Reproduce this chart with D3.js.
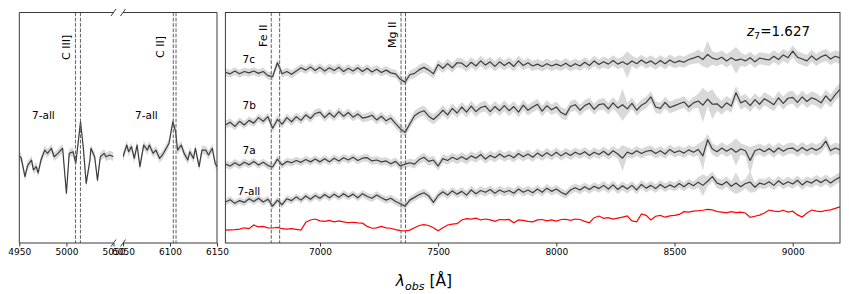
<!DOCTYPE html>
<html>
<head>
<meta charset="utf-8">
<script src="https://cdn.jsdelivr.net/npm/d3@7"></script>
<style>
  body { margin: 0; background: #fff; }
  svg { font-family: "DejaVu Sans", sans-serif; }
</style>
</head>
<body>
<div id="chart"></div>
<script>
// Figure size
const WIDTH = 849;
const HEIGHT = 294;
const TOP = 12.5;
const BOTTOM = 243;

// Right panel spectra: sampled every 20 Å from 6600 Å (one row = 200 Å)
const WAVE_START = 6600;
const WAVE_STEP = 20;

const flux7all = [
  0.98, 1.08, 0.92, 1.04, 0.96, 1.12, 1.00, 1.14, 0.98, 1.10,
  0.80, 1.06, 0.86, 1.12, 1.04, 1.20, 1.06, 1.24, 1.10, 1.26,
  1.14, 1.30, 1.16, 1.32, 1.18, 1.34, 1.20, 1.32, 1.16, 1.34,
  1.22, 1.14, 1.28, 1.16, 1.06, 1.14, 1.00, 0.90, 0.80, 1.06,
  1.18, 1.30, 1.38, 1.24, 0.96, 1.26, 1.42, 1.28, 1.46, 1.32,
  1.44, 1.28, 1.50, 1.34, 1.48, 1.40, 1.52, 1.36, 1.50, 1.40,
  1.48, 1.36, 1.54, 1.40, 1.50, 1.38, 1.54, 1.40, 1.58, 1.44,
  1.54, 1.40, 1.30, 1.50, 1.60, 1.50, 1.64, 1.52, 1.66, 1.56,
  1.70, 1.54, 1.72, 1.52, 1.68, 1.54, 1.70, 1.50, 1.74, 1.58,
  1.70, 1.56, 1.74, 1.60, 1.72, 1.62, 1.78, 1.64, 1.80, 1.68,
  1.84, 1.70, 1.88, 2.08, 1.80, 1.72, 1.86, 1.66, 1.80, 1.64,
  1.78, 1.84, 1.62, 1.80, 1.74, 1.86, 1.70, 1.90, 1.74, 1.86,
  1.76, 1.92, 1.72, 1.88, 1.80, 1.94, 1.82, 1.96, 1.80, 1.94,
  2.06
];

const flux7a = [
  0.92, 0.84, 0.98, 0.86, 1.00, 0.90, 1.04, 0.88, 1.00, 0.86,
  0.80, 1.14, 0.88, 1.04, 0.98, 1.08, 1.00, 1.12, 1.02, 1.14,
  1.02, 1.16, 1.02, 1.18, 1.06, 1.20, 1.10, 1.22, 1.08, 1.18,
  1.20, 1.06, 1.10, 1.02, 1.06, 0.94, 1.04, 0.84, 0.92, 0.98,
  0.92, 1.12, 1.22, 1.04, 1.10, 0.84, 1.16, 1.08, 1.22, 1.12,
  1.24, 1.12, 1.28, 1.18, 1.34, 1.14, 1.30, 1.20, 1.36, 1.22,
  1.32, 1.20, 1.38, 1.24, 1.36, 1.22, 1.40, 1.26, 1.42, 1.28,
  1.44, 1.28, 1.42, 1.30, 1.44, 1.34, 1.46, 1.30, 1.44, 1.34,
  1.48, 1.32, 1.50, 1.36, 1.18, 1.44, 1.36, 1.50, 1.38, 1.48,
  1.52, 1.38, 1.50, 1.36, 1.56, 1.42, 1.50, 1.40, 1.54, 1.44,
  1.56, 1.28, 1.98, 1.58, 1.46, 1.62, 1.48, 1.60, 1.44, 1.58,
  1.50, 1.08, 1.50, 1.58, 1.46, 1.60, 1.44, 1.62, 1.48, 1.60,
  1.62, 1.48, 1.64, 1.50, 1.62, 1.52, 1.64, 1.92, 1.50, 1.62,
  1.54
];

const flux7b = [
  1.02, 1.14, 0.96, 1.18, 1.02, 1.22, 1.10, 1.34, 1.18, 1.38,
  0.88, 1.26, 1.06, 1.34, 1.16, 1.38, 1.22, 1.46, 1.30, 1.52,
  1.58, 1.34, 1.54, 1.36, 1.60, 1.40, 1.56, 1.36, 1.50, 1.32,
  1.36, 1.44, 1.24, 1.40, 1.20, 1.32, 1.08, 0.86, 0.70, 1.06,
  1.42, 1.56, 1.64, 1.40, 1.26, 1.44, 1.66, 1.46, 1.74, 1.54,
  1.80, 1.58, 1.84, 1.60, 1.78, 1.84, 1.60, 1.82, 1.64, 1.86,
  1.64, 1.82, 1.58, 1.88, 1.66, 1.80, 1.92, 1.62, 1.86, 1.68,
  1.80, 1.56, 1.46, 1.82, 1.90, 1.66, 1.86, 1.96, 1.70, 1.90,
  1.94, 1.72, 1.98, 1.76, 1.90, 1.72, 1.96, 1.66, 1.88, 2.00,
  2.24, 1.80, 1.74, 2.00, 1.78, 1.86, 1.94, 2.02, 1.80, 1.98,
  2.06, 1.88, 2.14, 1.92, 1.94, 1.76, 1.98, 1.84, 2.42, 1.98,
  2.08, 1.86, 2.12, 1.92, 2.16, 2.04, 1.90, 2.20, 1.96, 2.18,
  2.22, 2.00, 2.24, 2.04, 2.20, 2.12, 1.98, 2.28, 2.06, 2.34,
  2.56
];

const flux7c = [
  1.01, 0.94, 1.06, 0.94, 1.04, 0.98, 1.06, 0.96, 1.04, 0.86,
  0.82, 1.42, 0.94, 1.04, 0.92, 1.06, 1.20, 1.10, 1.24, 1.08,
  1.22, 1.06, 1.20, 1.08, 1.22, 1.04, 1.18, 1.06, 1.20, 1.04,
  1.18, 1.02, 1.14, 1.00, 1.10, 0.98, 0.94, 0.70, 0.58, 0.90,
  0.96, 1.12, 1.22, 1.10, 0.94, 1.34, 1.18, 1.38, 1.20, 1.42,
  1.40, 1.24, 1.44, 1.28, 1.50, 1.32, 1.46, 1.26, 1.46, 1.30,
  1.44, 1.26, 1.50, 1.30, 1.42, 1.28, 1.36, 1.26, 1.38, 1.28,
  1.36, 1.28, 1.40, 1.26, 1.38, 1.28, 1.44, 1.30, 1.50, 1.34,
  1.46, 1.36, 1.52, 1.36, 1.46, 1.34, 1.50, 1.38, 1.54, 1.40,
  1.50, 1.36, 1.52, 1.38, 1.54, 1.42, 1.50, 1.44, 1.56, 1.62,
  1.70, 1.56, 1.78, 1.62, 1.56, 1.66, 1.50, 1.64, 1.52, 1.58,
  1.50, 1.64, 1.46, 1.62, 1.58, 1.54, 1.70, 1.56, 1.76, 1.64,
  1.92, 1.66, 1.58, 1.50, 1.72, 1.54, 1.68, 1.76, 1.58, 1.70,
  1.63
];

// red reference curve at the bottom
const fluxRed = [
  0.56, 0.57, 0.58, 0.60, 0.66, 0.62, 0.78, 0.70, 0.72, 0.66,
  0.65, 0.68, 0.62, 0.60, 0.62, 0.59, 0.56, 0.90, 1.00, 1.04,
  0.96, 0.94, 0.98, 0.92, 0.96, 0.92, 0.88, 0.90, 0.87, 0.86,
  0.72, 0.64, 0.66, 0.72, 0.66, 0.64, 0.58, 0.54, 0.52, 0.56,
  0.66, 0.76, 0.80, 0.76, 0.66, 0.53, 0.66, 0.78, 0.82, 0.84,
  1.00, 1.06, 1.04, 1.08, 1.00, 1.04, 1.00, 0.94, 1.02, 1.00,
  1.02, 0.88, 1.00, 0.98, 0.94, 0.92, 1.00, 1.02, 0.96, 1.00,
  0.95, 1.02, 1.03, 0.98, 1.04, 1.02, 0.94, 0.88, 1.10, 1.17,
  1.07, 1.10, 1.04, 1.08, 1.12, 1.17, 0.96, 0.92, 1.26, 1.20,
  1.00, 1.16, 1.20, 1.12, 1.18, 1.20, 1.24, 1.36, 1.34, 1.38,
  1.40, 1.42, 1.46, 1.44, 1.36, 1.34, 1.31, 1.36, 1.32, 1.34,
  1.30, 1.11, 1.16, 1.21, 1.30, 1.43, 1.38, 1.36, 1.42, 1.34,
  1.38, 1.22, 1.13, 1.30, 1.43, 1.38, 1.36, 1.41, 1.44, 1.50,
  1.57
];

// 1-sigma errors, one value per 200 Å block
const sig7all = [0.15, 0.15, 0.15, 0.16, 0.17, 0.18, 0.18, 0.18, 0.19, 0.19, 0.22, 0.21, 0.21, 0.21];
const sig7a = [0.16, 0.16, 0.16, 0.17, 0.19, 0.20, 0.20, 0.20, 0.21, 0.21, 0.25, 0.24, 0.24, 0.24];
const sig7b = [0.17, 0.18, 0.18, 0.19, 0.22, 0.23, 0.23, 0.24, 0.25, 0.25, 0.30, 0.28, 0.28, 0.28];
const sig7c = [0.17, 0.17, 0.18, 0.18, 0.21, 0.22, 0.22, 0.22, 0.23, 0.24, 0.29, 0.26, 0.26, 0.26];

// extra error at sky lines [wavelength, extra sigma]
const skyErr7all = [[8620, 0.25], [8760, 0.25], [8820, 0.25]];
const skyErr7a = [[8280, 0.35], [8620, 0.40], [8760, 0.35], [8820, 0.35]];
const skyErr7b = [[8280, 0.45], [8620, 0.45], [8660, 0.35]];
const skyErr7c = [[8300, 0.35], [8640, 0.30], [8760, 0.30]];

const specNames = ["7-all", "7a", "7b", "7c"];
const specOffsets = [0.8, 2.5, 4.1, 6.4];

// Left panel (7-all around C III] and C II])
const waveCIII = [4949, 4952, 4956, 4959, 4963, 4965, 4968, 4970, 4973, 4977,
  4980, 4984, 4987, 4991, 4996, 5000, 5003, 5007, 5010, 5015,
  5018, 5021, 5025, 5026, 5030, 5033, 5036, 5040, 5042, 5046, 5050];
const fluxCIII = [1.02, 0.89, 0.08, 0.58, 0.80, 0.37, 0.51, 0.24, 0.80, 1.23,
  1.09, 1.31, 0.94, 1.09, 1.31, -0.64, 1.09, 1.16, 0.66, 2.46,
  1.31, -0.21, 0.80, 1.31, 0.94, -0.07, 0.94, 1.09, 0.94, 1.02, 0.94];
const waveCII = [6050, 6054, 6056, 6059, 6062, 6065, 6068, 6072, 6076, 6078,
  6082, 6085, 6089, 6092, 6096, 6099, 6103, 6106, 6108, 6112,
  6115, 6119, 6121, 6125, 6127, 6131, 6134, 6138, 6141, 6145, 6148, 6150];
const fluxCII = [0.94, 1.45, 1.16, 1.38, 0.87, 1.45, 0.51, 1.45, 1.23, 1.45,
  1.09, 1.23, 0.87, 1.02, 1.31, 1.53, 2.46, 2.03, 1.23, 1.45,
  1.09, 0.80, 1.16, 0.87, 1.31, 0.51, 1.23, 1.23, 1.02, 1.31, 0.66, 0.51];
const LEFT_OFFSET = 2.8;
const LEFT_SIG = 0.19;

// Emission / absorption lines (observed Å)
const lineCIII = [5009.6, 5014.9];
const lineCII = [6103.5, 6106.4];
const lineFeII = [6794, 6829.5];
const lineMgII = [7343, 7362];

// Scales
const xA = d3.scaleLinear().domain([4950, 5050]).range([19.3, 113.5]);
const xB = d3.scaleLinear().domain([6050, 6150]).range([123, 217]);
const xR = d3.scaleLinear().domain([6600, 9200]).range([225.4, 840]);
const y = d3.scaleLinear().domain([0, 10]).range([BOTTOM, TOP]);

const svg = d3
  .select("#chart")
  .append("svg")
  .attr("width", WIDTH)
  .attr("height", HEIGHT);

// clip paths
function addClip(id, x0, x1) {
  svg.append("clipPath").attr("id", id)
    .append("rect")
    .attr("x", x0).attr("y", TOP)
    .attr("width", x1 - x0).attr("height", BOTTOM - TOP);
}
addClip("clipA", 19.3, 113.5);
addClip("clipB", 123, 217);
addClip("clipR", 225.4, 840);

const BAND = "#d9d9d9";
const LINE = "#3d3d3d";

function drawSpec(g, x, waves, flux, off, sigAt) {
  const pts = waves.map((w, i) => ({ w: w, f: flux[i] + off, s: sigAt(i, w) }));
  g.append("path")
    .datum(pts)
    .attr("fill", BAND)
    .attr("d", d3.area().x((d) => x(d.w)).y0((d) => y(d.f - d.s)).y1((d) => y(d.f + d.s)));
  g.append("path")
    .datum(pts)
    .attr("fill", "none")
    .attr("stroke", LINE)
    .attr("stroke-width", 1.2)
    .attr("stroke-linejoin", "round")
    .attr("d", d3.line().x((d) => x(d.w)).y((d) => y(d.f)));
}

// ---- right panel ----
const gR = svg.append("g").attr("clip-path", "url(#clipR)");
const waves = flux7all.map((v, i) => WAVE_START + i * WAVE_STEP);
const fluxes = [flux7all, flux7a, flux7b, flux7c];
const sigs = [sig7all, sig7a, sig7b, sig7c];
const skies = [skyErr7all, skyErr7a, skyErr7b, skyErr7c];

fluxes.forEach((fl, k) => {
  drawSpec(gR, xR, waves, fl, specOffsets[k], (i, w) => {
    const sky = skies[k].find((s) => s[0] === w);
    return sigs[k][Math.floor(i / 10)] + (sky ? sky[1] : 0);
  });
});

gR.append("path")
  .datum(fluxRed)
  .attr("fill", "none")
  .attr("stroke", "#ff0000")
  .attr("stroke-width", 1.2)
  .attr("d", d3.line().x((d, i) => xR(waves[i])).y((d) => y(d)));

// ---- left panel ----
const gA = svg.append("g").attr("clip-path", "url(#clipA)");
drawSpec(gA, xA, waveCIII, fluxCIII, LEFT_OFFSET, () => LEFT_SIG);
const gB = svg.append("g").attr("clip-path", "url(#clipB)");
drawSpec(gB, xB, waveCII, fluxCII, LEFT_OFFSET, () => LEFT_SIG);

// dashed line markers
function vlines(x, vals) {
  svg.selectAll(null)
    .data(vals)
    .enter()
    .append("line")
    .attr("x1", (d) => x(d)).attr("x2", (d) => x(d))
    .attr("y1", TOP).attr("y2", BOTTOM)
    .attr("stroke", "#606060")
    .attr("stroke-width", 1)
    .attr("stroke-dasharray", "3.7,1.6");
}
vlines(xA, lineCIII);
vlines(xB, lineCII);
vlines(xR, lineFeII);
vlines(xR, lineMgII);

// ---- frames ----
const SPINE = "#3a3a3a";
function hline(x0, x1, yy) {
  svg.append("line").attr("x1", x0).attr("x2", x1).attr("y1", yy).attr("y2", yy)
    .attr("stroke", SPINE).attr("stroke-width", 1);
}
function vline(xx) {
  svg.append("line").attr("x1", xx).attr("x2", xx).attr("y1", TOP).attr("y2", BOTTOM)
    .attr("stroke", SPINE).attr("stroke-width", 1);
}
hline(19.3, 113.5, TOP);
hline(19.3, 113.5, BOTTOM);
hline(123, 217, TOP);
hline(123, 217, BOTTOM);
vline(19.3);
vline(217);
svg.append("rect")
  .attr("x", 225.4).attr("y", TOP)
  .attr("width", 840 - 225.4).attr("height", BOTTOM - TOP)
  .attr("fill", "none").attr("stroke", SPINE).attr("stroke-width", 1);

// broken-axis marks
[xA(5050), xB(6050)].forEach((bx) => {
  [TOP, BOTTOM].forEach((by) => {
    svg.append("line")
      .attr("x1", bx - 2.5).attr("y1", by + 3.5)
      .attr("x2", bx + 2.5).attr("y2", by - 3.5)
      .attr("stroke", SPINE).attr("stroke-width", 1);
  });
});

// ---- axes ----
function xAxis(scale, ticks) {
  const g = svg.append("g")
    .attr("transform", "translate(0," + BOTTOM + ")")
    .call(d3.axisBottom(scale).tickValues(ticks).tickFormat(d3.format("d")).tickSize(3.5).tickPadding(2.5));
  g.select(".domain").remove();
  g.selectAll(".tick line").attr("stroke", SPINE);
  g.selectAll(".tick text").attr("fill", "#000").style("font-size", "9px").style("font-family", "DejaVu Sans");
}
xAxis(xA, [4950, 5000, 5050]);
xAxis(xB, [6050, 6100, 6150]);
xAxis(xR, [7000, 7500, 8000, 8500, 9000]);

// ---- labels ----
function vlabel(x, yy, txt) {
  svg.append("text")
    .attr("transform", "translate(" + x + "," + yy + ") rotate(-90)")
    .style("font-size", "11px")
    .text(txt);
}
vlabel(70, 60, "C III]");
vlabel(163.5, 58, "C II]");
vlabel(266.5, 47, "Fe II");
vlabel(396, 48, "Mg II");

const specLabelY = [195, 154, 108.5, 62.5];
specNames.forEach((n, k) => {
  svg.append("text")
    .attr("x", n === "7-all" ? 237.5 : 242.5)
    .attr("y", specLabelY[k])
    .style("font-size", "10.5px")
    .text(n);
});
svg.append("text").attr("x", 32).attr("y", 119).style("font-size", "10.5px").text("7-all");
svg.append("text").attr("x", 135).attr("y", 119).style("font-size", "10.5px").text("7-all");

const zt = svg.append("text").attr("x", 747).attr("y", 36).style("font-size", "13.5px");
zt.append("tspan").style("font-style", "italic").text("z");
zt.append("tspan").attr("dy", 3).style("font-size", "9.5px").text("7");
zt.append("tspan").attr("dy", -3).text("=1.627");

const xl = svg.append("text")
  .attr("x", 424)
  .attr("y", 286)
  .attr("text-anchor", "middle")
  .style("font-size", "15.5px");
xl.append("tspan").style("font-style", "italic").text("λ");
xl.append("tspan").attr("dy", 3.5).style("font-size", "11px").style("font-style", "italic").text("obs");
xl.append("tspan").attr("dy", -3.5).text(" [Å]");
</script>
</body>
</html>
